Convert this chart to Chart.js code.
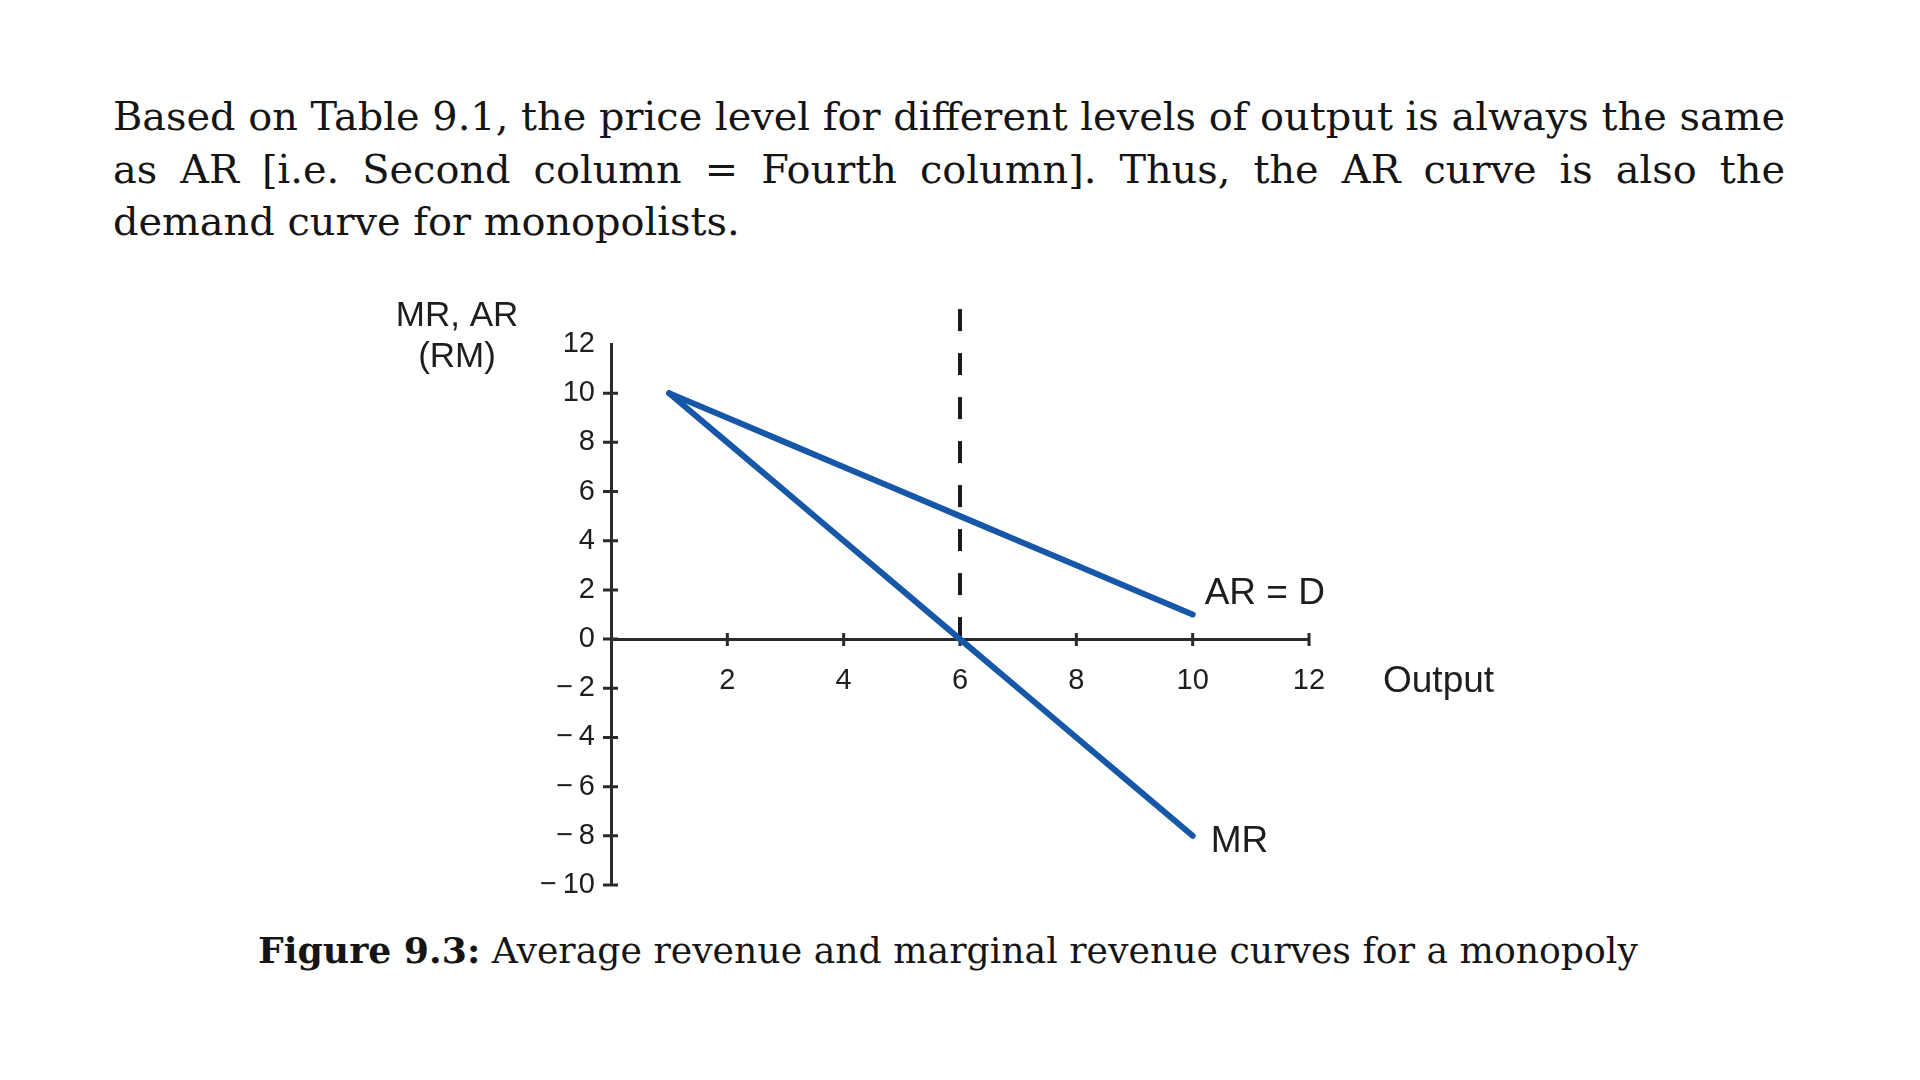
<!DOCTYPE html>
<html>
<head>
<meta charset="utf-8">
<script src="https://cdn.jsdelivr.net/npm/chart.js@4.4.1/dist/chart.umd.min.js"></script>
<style>
html,body{margin:0;padding:0;background:#fff;width:1920px;height:1080px;overflow:hidden;}
.txt{position:absolute;white-space:nowrap;font-family:"DejaVu Serif";color:#151515;line-height:normal;}
#c{position:absolute;left:0;top:0;}
</style>
</head>
<body>
<div id="p0" class="txt"></div>
<div id="p1" class="txt"></div>
<div id="p2" class="txt"></div>
<div id="cap" class="txt"><b>Figure 9.3:</b> Average revenue and marginal revenue curves for a monopoly</div>
<canvas id="c" width="1920" height="1080"></canvas>
<script>
// ---- data ----
const output   = [1, 2, 3, 4, 5, 6, 7, 8, 9, 10];
const arValues = [10, 9, 8, 7, 6, 5, 4, 3, 2, 1];
const mrValues = [10, 8, 6, 4, 2, 0, -2, -4, -6, -8];
const markerQ  = [6, 6];
const markerY  = [0, 13.5];
const xTickValues = [2, 4, 6, 8, 10, 12];
const yTickMarks  = [-10, -8, -6, -4, -2, 0, 2, 4, 6, 8, 10];

const paraLines = [
  "Based on Table 9.1, the price level for different levels of output is always the same",
  "as AR [i.e. Second column = Fourth column]. Thus, the AR curve is also the",
  "demand curve for monopolists."
];

// ---- text layout ----
const mc = document.createElement('canvas').getContext('2d');
function w(t, f){ mc.font = f; return mc.measureText(t).width; }
const serif = '"DejaVu Serif"';
const paraLeft = 113, paraRight = 1785, paraBase = [130, 183, 235];
const fsP = (paraRight - paraLeft) / w(paraLines[0], '100px ' + serif) * 100;
mc.font = fsP + 'px ' + serif;
const ascP = mc.measureText('Hg').fontBoundingBoxAscent;
paraLines.forEach((t, i) => {
  const el = document.getElementById('p' + i);
  el.textContent = t;
  el.style.fontSize = fsP + 'px';
  el.style.left = paraLeft + 'px';
  el.style.top = (paraBase[i] - ascP) + 'px';
  if (i < 2) {
    const nat = w(t, fsP + 'px ' + serif);
    const spaces = t.split(' ').length - 1;
    el.style.wordSpacing = ((paraRight - paraLeft - nat) / spaces) + 'px';
  }
});
const capEl = document.getElementById('cap');
const capW100 = w('Figure 9.3:', 'bold 100px ' + serif) + w(' Average revenue and marginal revenue curves for a monopoly', '100px ' + serif);
const fsC = (1638 - 258) / capW100 * 100;
mc.font = fsC + 'px ' + serif;
const ascC = mc.measureText('Hg').fontBoundingBoxAscent;
capEl.style.fontSize = fsC + 'px';
capEl.style.left = '258px';
capEl.style.top = (963 - ascC) + 'px';

// ---- chart ----
const blue = '#1757a7';
const axisColor = '#2a2a2a';
const sans = 'Liberation Sans';
const yAxisBoxWidth = 120;
function fmt(v){ return v < 0 ? '\u2212\u2009' + Math.abs(v) : String(v); }

const extras = {
  id: 'extras',
  beforeDatasetsDraw(chart){
    const {ctx, scales:{x, y}} = chart;
    ctx.save();
    ctx.strokeStyle = axisColor; ctx.lineWidth = 3;
    const x0 = x.getPixelForValue(0), y0 = y.getPixelForValue(0);
    ctx.beginPath();
    yTickMarks.forEach(v => { const py = y.getPixelForValue(v); ctx.moveTo(x0 - 8, py); ctx.lineTo(x0 + 7, py); });
    xTickValues.forEach(v => { const px = x.getPixelForValue(v); ctx.moveTo(px, y0 - 6); ctx.lineTo(px, y0 + 7); });
    ctx.stroke();
    ctx.restore();
  },
  afterDatasetsDraw(chart){
    const {ctx, scales:{x, y}} = chart;
    ctx.save();
    ctx.fillStyle = '#1e1e1e';
    ctx.textBaseline = 'middle';
    ctx.font = '37px "' + sans + '"';
    ctx.textAlign = 'left';
    const n = output.length - 1;
    ctx.fillText('AR = D', x.getPixelForValue(output[n]) + 12, y.getPixelForValue(arValues[n]) - 21);
    ctx.fillText('MR', x.getPixelForValue(output[n]) + 18, y.getPixelForValue(mrValues[n]) + 6);
    ctx.fillText('Output', x.getPixelForValue(12) + 74, y.getPixelForValue(0) + 43);
    ctx.font = '35px "' + sans + '"';
    ctx.textAlign = 'center';
    const cx = x.getPixelForValue(0) - 154, ty = y.getPixelForValue(12);
    ctx.fillText('MR, AR', cx, ty - 28);
    ctx.fillText('(RM)', cx, ty + 13);
    ctx.restore();
  }
};

new Chart(document.getElementById('c'), {
  type: 'line',
  data: {
    datasets: [
      { label: 'AR = D', data: output.map((q, i) => ({x: q, y: arValues[i]})), borderColor: blue, borderWidth: 6, pointRadius: 0, borderCapStyle: 'round', borderJoinStyle: 'round', fill: false, tension: 0 },
      { label: 'MR', data: output.map((q, i) => ({x: q, y: mrValues[i]})), borderColor: blue, borderWidth: 6, pointRadius: 0, borderCapStyle: 'round', borderJoinStyle: 'round', fill: false, tension: 0 },
      { label: 'Q*', data: markerQ.map((q, i) => ({x: q, y: markerY[i]})), borderColor: '#1a1a1a', borderWidth: 4, borderDash: [22, 22], pointRadius: 0, fill: false, clip: false }
    ]
  },
  options: {
    responsive: false,
    devicePixelRatio: 1,
    animation: false,
    events: [],
    layout: { padding: { left: 611 - yAxisBoxWidth, right: 1920 - 1309, top: 344, bottom: 1080 - 885 } },
    plugins: { legend: { display: false }, tooltip: { enabled: false } },
    scales: {
      x: {
        type: 'linear', min: 0, max: 12, position: { y: 0 },
        afterBuildTicks: s => { s.ticks = [0].concat(xTickValues).map(v => ({value: v})); },
        ticks: { padding: 25, color: '#1e1e1e', font: { family: sans, size: 29 }, maxRotation: 0, autoSkip: false,
                 callback: v => v === 0 ? '' : fmt(v) },
        grid: { display: true, drawOnChartArea: false, drawTicks: false, color: 'rgba(0,0,0,0)' },
        border: { display: true, color: axisColor, width: 3 }
      },
      y: {
        type: 'linear', min: -10, max: 12, position: 'left',
        afterFit: s => { s.width = yAxisBoxWidth; },
        ticks: { stepSize: 2, padding: 16, color: '#1e1e1e', font: { family: sans, size: 29 }, autoSkip: false, callback: v => fmt(v) },
        grid: { display: true, drawOnChartArea: false, drawTicks: false, color: 'rgba(0,0,0,0)' },
        border: { display: true, color: axisColor, width: 3 }
      }
    }
  },
  plugins: [extras]
});
</script>
</body>
</html>
